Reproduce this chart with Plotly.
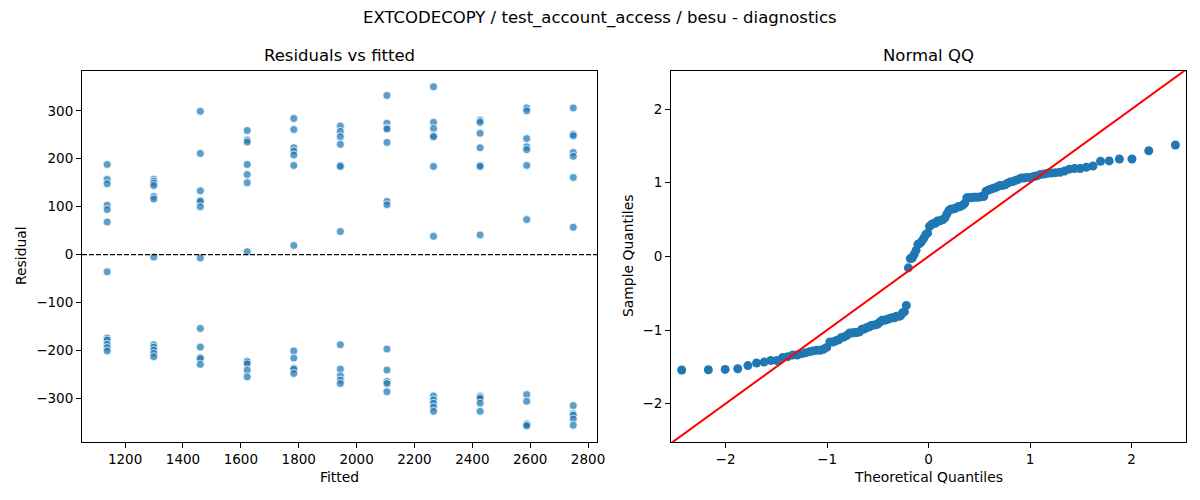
import numpy as np
import plotly.graph_objects as go
from statistics import NormalDist

# Valores
fitted_levels = [1138, 1299, 1460, 1622, 1783, 1944, 2105, 2266, 2427, 2588, 2749]

residuals = [
    [188, 157, 148, 103, 94, 68, -36, -174, -178, -187, -194, -201],
    [157, 153, 149, 144, 121, 116, -5, -188, -193, -199, -206, -213],
    [299, 211, 133, 113, 111, 100, -7, -154, -193, -215, -217, -229],
    [259, 239, 235, 188, 167, 150, 6, -222, -224, -228, -241, -255],
    [284, 261, 223, 216, 208, 186, 19, -201, -216, -237, -239, -248],
    [268, 257, 246, 230, 186, 184, 48, -188, -239, -253, -262, -269],
    [332, 274, 264, 262, 234, 111, 104, -197, -241, -265, -269, -286],
    [350, 276, 263, 248, 246, 184, 38, -295, -303, -310, -318, -327],
    [280, 276, 253, 223, 186, 184, 41, -295, -297, -300, -310, -327],
    [306, 300, 242, 225, 219, 186, 73, -292, -306, -353, -355, -357],
    [306, 251, 248, 213, 205, 161, 57, -315, -332, -335, -343, -356],
]

title = "EXTCODECOPY / test_account_access / besu - diagnostics"
font_family = "DejaVu Sans"

# la pagina deja 8px de margen en el body, se compensa aqui
W, H, OFF = 1192, 492, 8


def xp(px):
    return (px - OFF) / W


def yp(py):
    return 1 - (py - OFF) / H


# puntos del panel izquierdo
x_pts = []
y_pts = []
for f, rs in zip(fitted_levels, residuals):
    for r in rs:
        x_pts.append(f)
        y_pts.append(r)

# QQ normal de los residuos estandarizados
res_arr = np.array(y_pts, dtype=float)
std_res = np.sort(res_arr / res_arr.std(ddof=1))
n = len(std_res)
theo = [NormalDist().inv_cdf(i / (n + 1)) for i in range(1, n + 1)]

fig = go.Figure()

fig.add_trace(go.Scatter(
    x=x_pts, y=y_pts, mode="markers",
    marker=dict(size=8, color="rgba(31,119,180,0.72)", line=dict(color="white", width=0.75)),
    xaxis="x", yaxis="y", showlegend=False,
))

fig.add_trace(go.Scatter(
    x=theo, y=std_res, mode="markers",
    marker=dict(size=9, color="#1f77b4", line=dict(width=0)),
    xaxis="x2", yaxis="y2", showlegend=False,
))

# linea 45 grados
lim = 3
fig.add_shape(type="line", x0=-lim, y0=-lim, x1=lim, y1=lim, xref="x2", yref="y2",
              line=dict(color="red", width=2), layer="above")

# linea horizontal en cero
fig.add_shape(type="line", x0=0, x1=1, y0=0, y1=0, xref="x domain", yref="y",
              line=dict(color="black", width=1.3, dash="5px,2px"), layer="above")

axis_style = dict(
    showline=True, linecolor="black", linewidth=1, mirror=True,
    ticks="outside", ticklen=5, tickwidth=1, tickcolor="black",
    showgrid=False, zeroline=False, automargin=False,
    tickfont=dict(family=font_family, size=13.5, color="black"),
)

left_dom = [xp(82), xp(597)]
right_dom = [xp(671), xp(1186)]
y_dom = [yp(442), yp(71)]

fig.update_layout(
    width=W, height=H,
    margin=dict(l=0, r=0, t=0, b=0),
    plot_bgcolor="white", paper_bgcolor="white",
    font=dict(family=font_family, color="black"),
    xaxis=dict(domain=left_dom, range=[1051, 2831],
               tickvals=list(range(1200, 2801, 200)), anchor="y", **axis_style),
    yaxis=dict(domain=y_dom, range=[-391, 383],
               tickvals=list(range(-300, 301, 100)), anchor="x", **axis_style),
    xaxis2=dict(domain=right_dom, range=[-2.537, 2.536],
                tickvals=[-2, -1, 0, 1, 2], anchor="y2", **axis_style),
    yaxis2=dict(domain=y_dom, range=[-2.52, 2.517],
                tickvals=[-2, -1, 0, 1, 2], anchor="x2", **axis_style),
)

annotations = [
    dict(text=title, x=xp(600), y=yp(18), size=16.5),
    dict(text="Residuals vs fitted", x=sum(left_dom) / 2, y=yp(56), size=16.5),
    dict(text="Normal QQ", x=sum(right_dom) / 2, y=yp(56), size=16.5),
    dict(text="Fitted", x=sum(left_dom) / 2, y=yp(477), size=13.9),
    dict(text="Theoretical Quantiles", x=sum(right_dom) / 2, y=yp(477), size=13.9),
]
for a in annotations:
    fig.add_annotation(text=a["text"], x=a["x"], y=a["y"], xref="paper", yref="paper",
                       showarrow=False, xanchor="center", yanchor="middle",
                       font=dict(family=font_family, size=a["size"], color="black"))

fig.add_annotation(text="Residual", x=xp(21), y=yp(256), xref="paper", yref="paper",
                   showarrow=False, textangle=-90, xanchor="center", yanchor="middle",
                   font=dict(family=font_family, size=13.9, color="black"))
fig.add_annotation(text="Sample Quantiles", x=xp(628), y=yp(256), xref="paper", yref="paper",
                   showarrow=False, textangle=-90, xanchor="center", yanchor="middle",
                   font=dict(family=font_family, size=13.9, color="black"))

fig.write_html("out.html")
